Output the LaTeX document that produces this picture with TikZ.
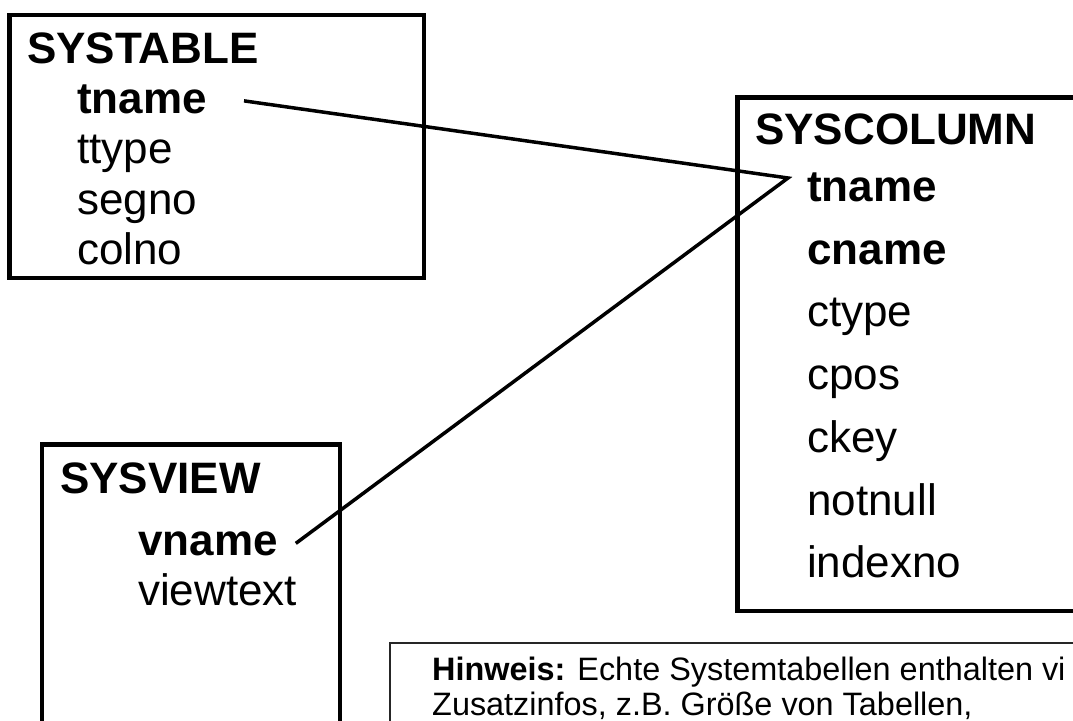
\documentclass[tikz,border=0pt]{standalone}
\usepackage{fontspec}
\setmainfont{Liberation Sans}
\begin{document}
\begin{tikzpicture}[x=1pt,y=-1pt,line join=miter,
		boxline/.style={line width=4.5pt},
		conn/.style={line width=3.5pt},
		title/.style={font=\fontsize{44}{50}\selectfont\bfseries,anchor=base west,inner sep=0pt},
		attr/.style={font=\fontsize{44}{50}\selectfont,anchor=base west,inner sep=0pt},
		keyattr/.style={attr,font=\fontsize{44}{50}\selectfont\bfseries},
		note/.style={font=\fontsize{32.4}{35}\selectfont,anchor=base west,inner sep=0pt}]
	\useasboundingbox (0,0) rectangle (1073,720);
	\clip (0,0) rectangle (1073,720);
	% tables
	\draw[boxline] (9.5,15) rectangle (424,278);
	\draw[boxline] (737.5,97.5) rectangle (1110,611);
	\draw[boxline] (42,444.5) rectangle (340,770);
	\draw[line width=1.3pt,black!85] (390,643) rectangle (1110,780);
	% SYSTABLE
	\node[title] (st) at (27,63) {SYSTABLE};
	\node[keyattr] (st-tname) at (77,113) {tname};
	\foreach \f [count=\i from 1] in {ttype,segno,colno}{
		\node[attr] (st-\f) at (77,{113+50.5*\i}) {\f};
	}
	% SYSCOLUMN
	\node[title] (sc) at (755,144) {SYSCOLUMN};
	\node[keyattr] (sc-tname) at (807,201) {tname};
	\node[keyattr] (sc-cname) at (807,264) {cname};
	\foreach \f [count=\i from 2] in {ctype,cpos,ckey,notnull,indexno}{
		\node[attr] (sc-\f) at (807,{201+62.8*\i}) {\f};
	}
	% SYSVIEW
	\node[title] (sv) at (60,493) {SYSVIEW};
	\node[keyattr] (sv-vname) at (138,555) {vname};
	\node[attr] (sv-viewtext) at (138,605) {viewtext};
	% Hinweis
	\node[note] (hw1) at (432,680) {\textbf{Hinweis:} Echte Systemtabellen enthalten vi};
	\node[note] (hw2) at (432,715) {Zusatzinfos, z.B. Größe von Tabellen,};
	% references
	\coordinate (joint) at (788,178);
	\draw[conn] ([xshift=37pt,yshift=-2pt]st-tname.east) -- (joint)
		-- ([xshift=18pt]sv-vname.east);
\end{tikzpicture}
\end{document}
